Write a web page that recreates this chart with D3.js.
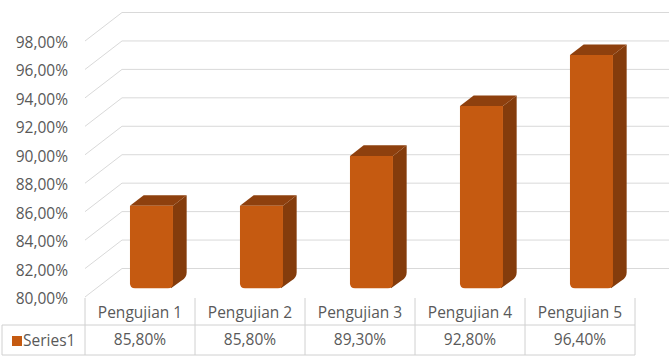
<!DOCTYPE html>
<html>
<head>
<meta charset="utf-8">
<script src="https://cdn.jsdelivr.net/npm/d3@7"></script>
<style>
  body { margin: 0; background: #fff; }
  text { font-family: "Open Sans", Lato, sans-serif; fill: #595959; }
</style>
</head>
<body>
<script>
var width = 669,
    height = 358;

// data
var categories = ["Pengujian 1", "Pengujian 2", "Pengujian 3", "Pengujian 4", "Pengujian 5"];
var values = [85.8, 85.8, 89.3, 92.8, 96.4];
var valueLabels = ["85,80%", "85,80%", "89,30%", "92,80%", "96,40%"];
var seriesName = "Series1";
var yTicks = [80, 82, 84, 86, 88, 90, 92, 94, 96, 98];

// 3d depth offset of the plot (floor goes back up-right)
var depthX = 37, depthY = 28.5;
var barZ0 = 0.31, barZ1 = 0.68;
var fontSize = "15.5px";

var svg = d3.select("body").append("svg")
    .attr("width", width)
    .attr("height", height);

var x = d3.scaleBand().domain(categories).range([85, 635]).padding(0);
var y = d3.scaleLinear().domain([80, 98]).range([297, 41]);

// project a point at depth z (0 = front, 1 = back wall)
function proj(px, v, z) {
    return [px + z * depthX, y(v) - z * depthY];
}

var grid = svg.append("g").attr("class", "grid");
yTicks.forEach(function (t) {
    var a = proj(85, t, 0), b = proj(85, t, 1);
    grid.append("path")
        .attr("d", "M" + a[0] + "," + a[1] + "L" + b[0] + "," + b[1] + "L" + width + "," + b[1])
        .attr("fill", "none")
        .attr("stroke", "#d9d9d9")
        .attr("stroke-width", 1);
});

// y labels
svg.append("g").selectAll("text")
    .data(yTicks)
    .enter().append("text")
    .attr("x", 68)
    .attr("y", function (d) { return y(d) + 1; })
    .attr("text-anchor", "end")
    .attr("dominant-baseline", "central")
    .style("font-size", fontSize)
    .text(function (d) { return d.toFixed(2).replace(".", ",") + "%"; });

// bars
var half = 21.5;
var bars = svg.append("g").selectAll("g")
    .data(values)
    .enter().append("g");

bars.each(function (v, i) {
    var g = d3.select(this);
    var cx = x(categories[i]) + x.bandwidth() / 2;
    var fl = proj(cx - half, 80, barZ0), fr = proj(cx + half, 80, barZ0);
    var tl = proj(cx - half, v, barZ0), tr = proj(cx + half, v, barZ0);
    var br = proj(cx + half, 80, barZ1), bt = proj(cx + half, v, barZ1), btl = proj(cx - half, v, barZ1);
    var r = 5;
    // side
    g.append("path")
        .attr("d", "M" + tr + "L" + bt + "L" + br[0] + "," + (br[1] - r) +
            "Q" + br[0] + "," + br[1] + " " + (br[0] - r) + "," + (br[1] + r * 0.6) +
            "L" + (fr[0] - 2) + "," + fr[1] + "Z")
        .attr("fill", "#843c0c");
    // top
    g.append("path")
        .attr("d", "M" + tl + "L" + btl + "L" + bt + "L" + tr + "Z")
        .attr("fill", "#8e400e");
    // front
    g.append("path")
        .attr("d", "M" + tl + "L" + tr + "L" + fr[0] + "," + (fr[1] - r) +
            "Q" + fr[0] + "," + fr[1] + " " + (fr[0] - r) + "," + fr[1] +
            "L" + (fl[0] + r) + "," + fl[1] +
            "Q" + fl[0] + "," + fl[1] + " " + fl[0] + "," + (fl[1] - r) + "Z")
        .attr("fill", "#c55a11");
});

// data table
var line = "#d0d0d0";
var tbl = svg.append("g").attr("class", "table");
var rowTop = 298, rowMid = 325, rowBot = 355;
x.domain().forEach(function (c, i) {
    tbl.append("line").attr("x1", x(c)).attr("x2", x(c)).attr("y1", rowTop).attr("y2", rowBot);
});
tbl.append("line").attr("x1", 635).attr("x2", 635).attr("y1", rowTop).attr("y2", rowBot);
tbl.append("line").attr("x1", 2).attr("x2", 635).attr("y1", rowMid).attr("y2", rowMid);
tbl.append("line").attr("x1", 2).attr("x2", 635).attr("y1", rowBot).attr("y2", rowBot);
tbl.append("line").attr("x1", 2).attr("x2", 2).attr("y1", rowMid).attr("y2", rowBot);
tbl.selectAll("line").attr("stroke", line).attr("stroke-width", 1);

tbl.selectAll("text.cat")
    .data(categories)
    .enter().append("text")
    .attr("class", "cat")
    .attr("x", function (d) { return x(d) + x.bandwidth() / 2; })
    .attr("y", 312)
    .attr("text-anchor", "middle")
    .attr("dominant-baseline", "central")
    .style("font-size", fontSize)
    .text(function (d) { return d; });

tbl.selectAll("text.val")
    .data(valueLabels)
    .enter().append("text")
    .attr("class", "val")
    .attr("x", function (d, i) { return x(categories[i]) + x.bandwidth() / 2; })
    .attr("y", 339)
    .attr("text-anchor", "middle")
    .attr("dominant-baseline", "central")
    .style("font-size", fontSize)
    .text(function (d) { return d; });

// legend key
tbl.append("rect")
    .attr("x", 12).attr("y", 336).attr("width", 10).attr("height", 10)
    .attr("fill", "#c55a11");
tbl.append("text")
    .attr("x", 23).attr("y", 340)
    .attr("dominant-baseline", "central")
    .style("font-size", fontSize)
    .text(seriesName);
</script>
</body>
</html>
